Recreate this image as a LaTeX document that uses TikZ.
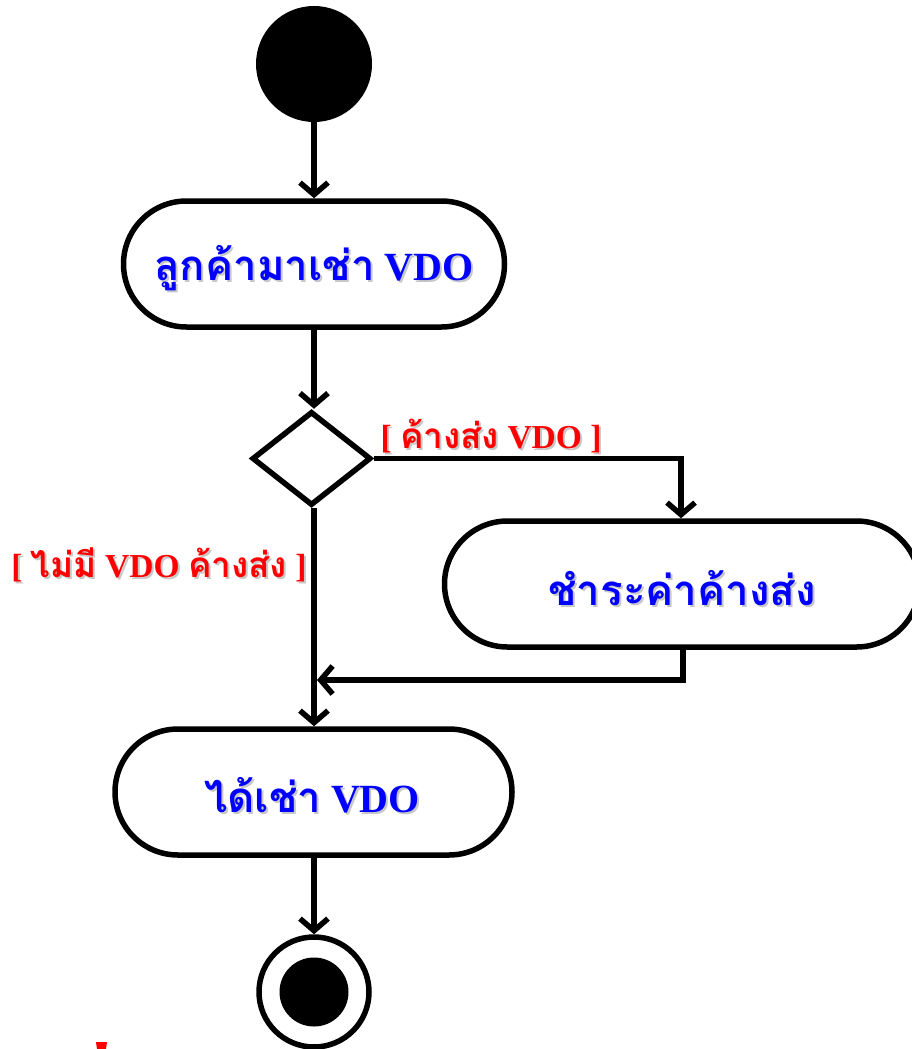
\documentclass[tikz,border=0pt]{standalone}
\usepackage{fontspec}
\setmainfont{Liberation Serif}
\newfontfamily\thaifont[Script=Thai,Scale=1.05]{Loma}
\usetikzlibrary{shapes.misc,shapes.geometric,arrows.meta}
\tikzset{
  x=1pt,y=-1pt,
  conn/.style={line width=5.5pt},
  arr/.style={conn,-{Straight Barb[length=12pt,width=28pt]}},
  pill/.style={rounded rectangle,draw,line width=5.5pt,minimum height=126pt,inner sep=0pt},
  btext/.style={text=blue,font=\bfseries\fontsize{40}{44}\selectfont},
  rtext/.style={text=red,font=\bfseries\fontsize{33.5}{36}\selectfont},
  shadow/.style={text=black!22},
}
\begin{document}
\begin{tikzpicture}
\useasboundingbox (0,0) rectangle (911,1049);
% start
\node[circle,fill=black,minimum size=116pt,inner sep=0pt] (start) at (314,64) {};
% action 1
\node[pill,minimum width=381pt] (b1) at (314,264) {};
\node[btext,shadow] (b1s) at (316,270) {{\thaifont ลูกค้ามาเช่า} VDO};
\node[btext] (b1t) at (314,268) {{\thaifont ลูกค้ามาเช่า} VDO};
% decision
\node[diamond,draw,line width=5.5pt,inner sep=0pt,minimum width=119pt,minimum height=94pt] (dec) at (311.5,458.5) {};
% action 2
\node[pill,minimum width=475pt] (b2) at (682,584) {};
\node[btext,shadow] (b2s) at (684,590) {\thaifont ชำระค่าค้างส่ง};
\node[btext] (b2t) at (682,588) {\thaifont ชำระค่าค้างส่ง};
% action 3
\node[pill,minimum width=397pt] (b3) at (313.5,792) {};
\node[btext,shadow] (b3s) at (314,797) {{\thaifont ได้เช่า} VDO};
\node[btext] (b3t) at (312,795) {{\thaifont ได้เช่า} VDO};
% end
\node[circle,draw,line width=5.5pt,minimum size=110pt,inner sep=0pt] (end) at (314,992) {};
\node[circle,fill=black,minimum size=69pt,inner sep=0pt] (endin) at (end) {};
% guards
\node[rtext,shadow] (g1s) at (493,438) {[ {\thaifont ค้างส่ง} VDO ]};
\node[rtext] (g1) at (491,436) {[ {\thaifont ค้างส่ง} VDO ]};
\node[rtext,shadow] (g2s) at (161,567) {[ {\thaifont ไม่มี} VDO {\thaifont ค้างส่ง} ]};
\node[rtext] (g2) at (159,565) {[ {\thaifont ไม่มี} VDO {\thaifont ค้างส่ง} ]};
% connectors
\coordinate (join) at (317,680);
\draw[arr] (start) -- (start |- b1.north);
\draw[arr] (b1.south -| start) -- (start |- dec.north);
\draw[arr] (dec.east) -| (b2.north -| 681,0);
\draw[arr] (dec.south -| start) -- (start |- b3.north);
\draw[arr] (b2.south -| 683,0) |- (join);
\draw[arr] (b3.south -| start) -- (start |- end.north);
% cut-off red fragment at the bottom edge
\fill[red] (96,1042) -- (107,1042) -- (106,1049) -- (97,1049) -- cycle;
\end{tikzpicture}
\end{document}
